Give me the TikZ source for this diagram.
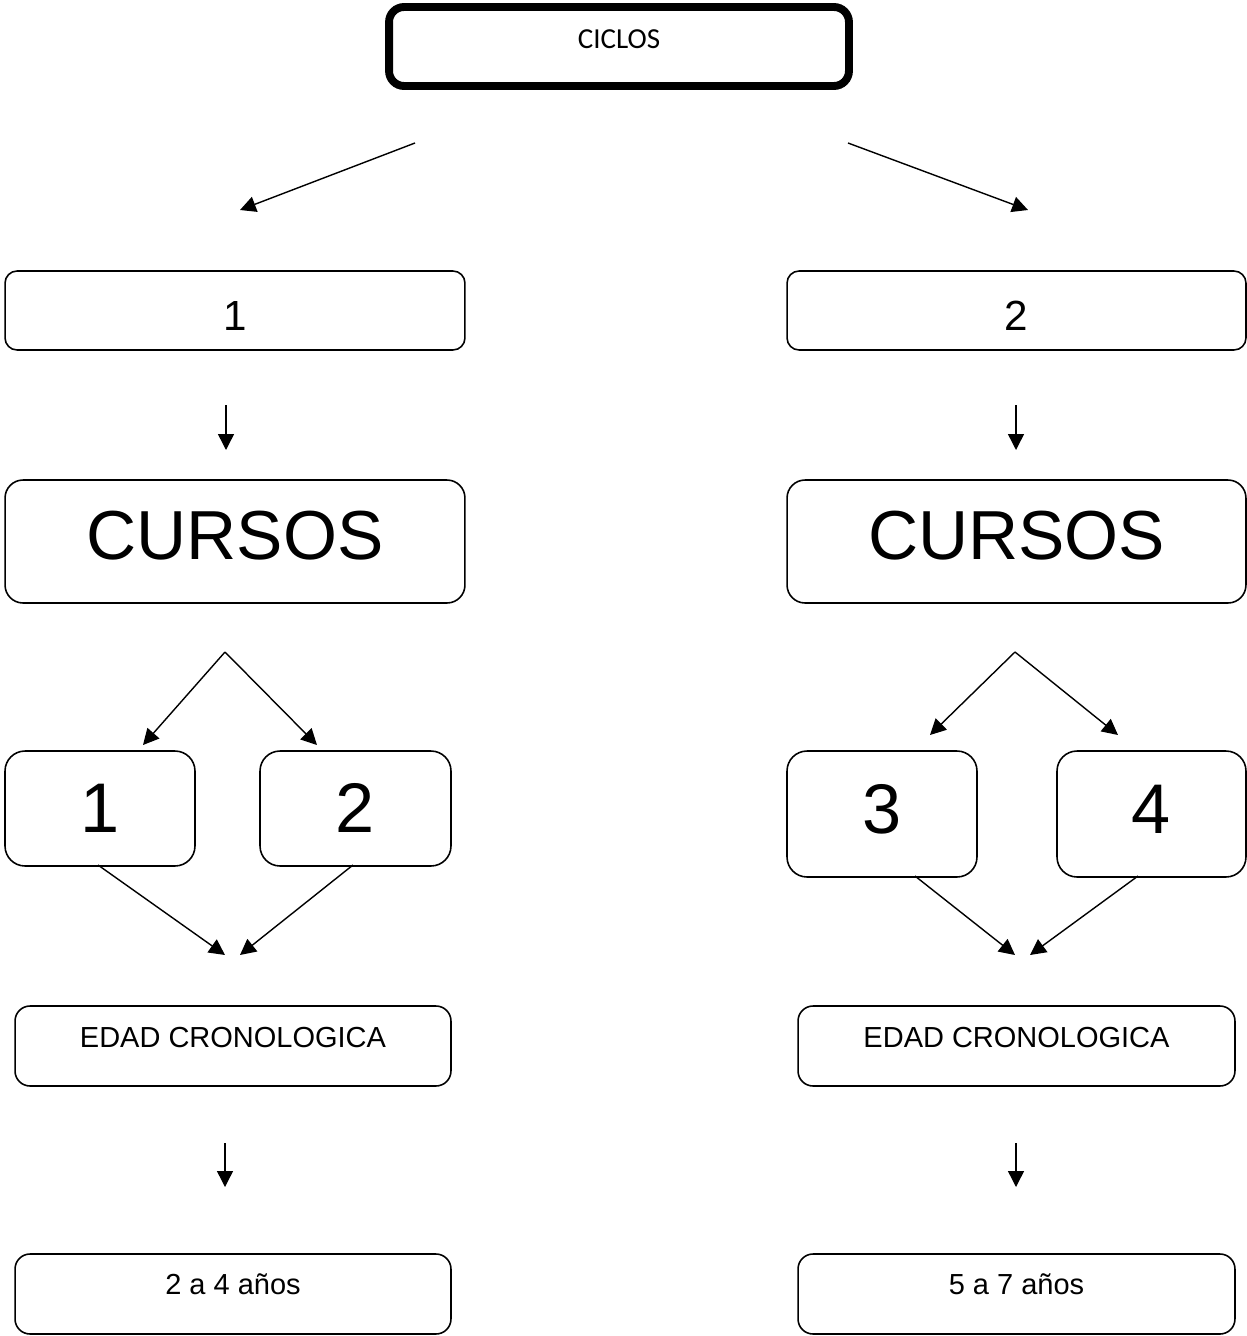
\documentclass[tikz,border=0pt]{standalone}
\usepackage{fontspec}
\setmainfont{Liberation Sans}
\newfontfamily\calibri{Carlito}
\usetikzlibrary{arrows.meta}
\tikzset{
  caja/.style={draw, line width=0.9pt, inner sep=2pt},
  flecha/.style={line width=0.8pt, -{Triangle[length=9pt,width=9pt]}},
  ciclo/.style={caja, line width=4.5pt, rounded corners=0.3cm,
    minimum width=9.2cm, minimum height=1.58cm,
    font=\calibri\fontsize{16.5}{20}\selectfont, text height=10.6pt, text depth=8.6pt},
  numero/.style={caja, rounded corners=0.24cm, minimum height=1.58cm,
    font=\fontsize{24}{28}\selectfont, text height=22.3pt, text depth=0pt},
  cursos/.style={caja, rounded corners=0.36cm, minimum width=9.2cm, minimum height=2.46cm,
    font=\fontsize{39.5}{46}\selectfont, text height=28.3pt, text depth=7.4pt},
  curso/.style={caja, rounded corners=0.4cm,
    font=\fontsize{40}{48}\selectfont, text height=28.6pt},
  edad/.style={caja, rounded corners=0.3cm, minimum height=1.6cm,
    font=\fontsize{16.5}{20}\selectfont, text height=11.8pt, text depth=9.6pt},
  anios/.style={edad, text depth=11.3pt}
}
\begin{document}
\begin{tikzpicture}[x=0.02cm,y=-0.02cm]
    \useasboundingbox (0,0) rectangle (1247,1336);
    %% boxes
    \node[ciclo] (ciclos) at (619,46.5) {CICLOS};
    \node[numero, minimum width=9.2cm] (uno) at (235,310.5) {1};
    \node[numero, minimum width=9.18cm] (dos) at (1016.5,310.5) {2};
    \node[cursos] (cursosA) at (235,541.5) {CURSOS};
    \node[cursos, minimum width=9.18cm] (cursosB) at (1016.5,541.5) {CURSOS};
    \node[curso, minimum width=3.8cm, minimum height=2.3cm, text depth=1.7pt] (cursoUno) at (100,808.5) {1};
    \node[curso, minimum width=3.82cm, minimum height=2.3cm, text depth=1.7pt] (cursoDos) at (355.5,808.5) {2};
    \node[curso, minimum width=3.8cm, minimum height=2.52cm, text depth=6.8pt] (cursoTres) at (882,814) {3};
    \node[curso, minimum width=3.78cm, minimum height=2.52cm, text depth=6.8pt] (cursoCuatro) at (1151.5,814) {4};
    \node[edad, minimum width=8.72cm] (edadA) at (233,1046) {EDAD CRONOLOGICA};
    \node[edad, minimum width=8.74cm] (edadB) at (1016.5,1046) {EDAD CRONOLOGICA};
    \node[anios, minimum width=8.72cm] (aniosA) at (233,1294) {2 a 4 años};
    \node[anios, minimum width=8.74cm] (aniosB) at (1016.5,1294) {5 a 7 años};

    %% arrow ends
    \coordinate (cicloL) at (415,143);   \coordinate (cicloLfin) at (240,210);
    \coordinate (cicloR) at (848,143);   \coordinate (cicloRfin) at (1028,210);
    \coordinate (unoS) at (226,405);     \coordinate (unoSfin) at (226,450);
    \coordinate (dosS) at (1016,405);    \coordinate (dosSfin) at (1016,450);
    \coordinate (ramaA) at (225,652);
    \coordinate (ramaAL) at (143,745);   \coordinate (ramaAR) at (317,745);
    \coordinate (ramaB) at (1015,652);
    \coordinate (ramaBL) at (930,735);   \coordinate (ramaBR) at (1118,735);
    \coordinate (cursoUnoS) at (98,865); \coordinate (juntaAL) at (225,955);
    \coordinate (cursoDosS) at (353,865); \coordinate (juntaAR) at (240,955);
    \coordinate (cursoTresS) at (915,876); \coordinate (juntaBL) at (1015,955);
    \coordinate (cursoCuatroS) at (1138,876); \coordinate (juntaBR) at (1030,955);
    \coordinate (edadAS) at (225,1143);  \coordinate (edadASfin) at (225,1187);
    \coordinate (edadBS) at (1016,1143); \coordinate (edadBSfin) at (1016,1187);

    %% arrows
    \draw[flecha] (cicloL) -- (cicloLfin);
    \draw[flecha] (cicloR) -- (cicloRfin);
    \draw[flecha] (unoS) -- (unoSfin);
    \draw[flecha] (dosS) -- (dosSfin);
    \draw[flecha] (ramaA) -- (ramaAL);
    \draw[flecha] (ramaA) -- (ramaAR);
    \draw[flecha] (ramaB) -- (ramaBL);
    \draw[flecha] (ramaB) -- (ramaBR);
    \draw[flecha] (cursoUnoS) -- (juntaAL);
    \draw[flecha] (cursoDosS) -- (juntaAR);
    \draw[flecha] (cursoTresS) -- (juntaBL);
    \draw[flecha] (cursoCuatroS) -- (juntaBR);
    \draw[flecha] (edadAS) -- (edadASfin);
    \draw[flecha] (edadBS) -- (edadBSfin);
\end{tikzpicture}
\end{document}
